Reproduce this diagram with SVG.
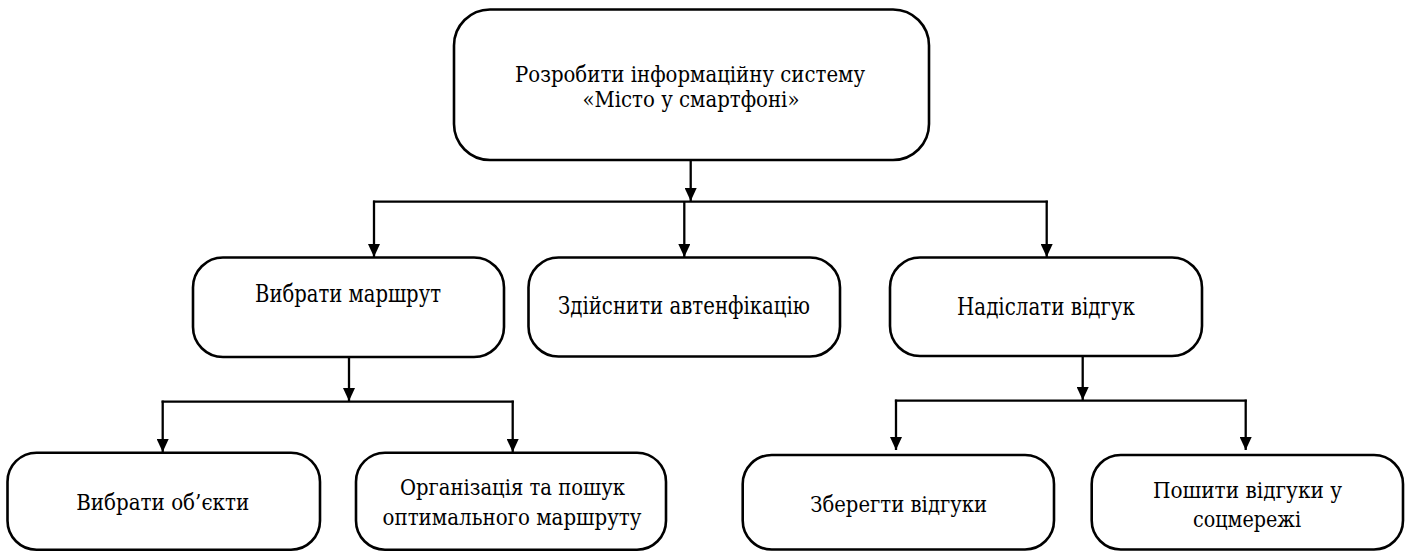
<svg xmlns="http://www.w3.org/2000/svg" width="1405" height="551" viewBox="0 0 1405 551">
  <style>
    .box { fill: #ffffff; stroke: #000000; stroke-width: 2.6; }
    .wire { fill: none; stroke: #000000; stroke-width: 2.3; }
    .lbl { font-family: "DejaVu Serif", "Liberation Serif", serif; font-size: 24px; fill: #000000; text-anchor: middle; }
    .sm { font-size: 23px; }
    .top { font-size: 21.5px; }
  </style>
  <defs>
    <marker id="down" markerUnits="userSpaceOnUse" markerWidth="12" markerHeight="13" refX="6" refY="13" orient="0" viewBox="0 0 12 13">
      <path d="M0,0 L12,0 L6,13 Z" fill="#000000"/>
    </marker>
  </defs>

  <rect width="1405" height="551" fill="#ffffff"/>

  <!-- connectors -->
  <g id="connectors">
    <line class="wire" x1="690.7" y1="160" x2="690.7" y2="201" marker-end="url(#down)"/>
    <line class="wire" x1="373" y1="201.7" x2="1047.8" y2="201.7"/>
    <line class="wire" x1="374" y1="200.6" x2="374" y2="257" marker-end="url(#down)"/>
    <line class="wire" x1="684.3" y1="201.7" x2="684.3" y2="257" marker-end="url(#down)"/>
    <line class="wire" x1="1046.7" y1="200.6" x2="1046.7" y2="257" marker-end="url(#down)"/>

    <line class="wire" x1="349" y1="357" x2="349" y2="401" marker-end="url(#down)"/>
    <line class="wire" x1="161.6" y1="401.7" x2="513.8" y2="401.7"/>
    <line class="wire" x1="162.7" y1="400.6" x2="162.7" y2="452" marker-end="url(#down)"/>
    <line class="wire" x1="512.7" y1="400.6" x2="512.7" y2="452" marker-end="url(#down)"/>

    <line class="wire" x1="1082.7" y1="356" x2="1082.7" y2="400" marker-end="url(#down)"/>
    <line class="wire" x1="894.9" y1="400.7" x2="1246.8" y2="400.7"/>
    <line class="wire" x1="896" y1="399.6" x2="896" y2="450" marker-end="url(#down)"/>
    <line class="wire" x1="1245.7" y1="399.6" x2="1245.7" y2="450" marker-end="url(#down)"/>
  </g>

  <!-- root goal -->
  <g id="node-root">
    <rect class="box" x="454" y="9.5" width="475" height="150.5" rx="36" ry="36"/>
    <text class="lbl top" x="690" y="81.5" textLength="350" lengthAdjust="spacingAndGlyphs">Розробити інформаційну систему</text>
    <text class="lbl top" x="691" y="106.5" textLength="217" lengthAdjust="spacingAndGlyphs">«Місто у смартфоні»</text>
  </g>

  <!-- second level -->
  <g id="node-route">
    <rect class="box" x="193" y="257.5" width="311" height="99.5" rx="30" ry="30"/>
    <text class="lbl" x="348" y="302" textLength="186" lengthAdjust="spacingAndGlyphs">Вибрати маршрут</text>
  </g>
  <g id="node-auth">
    <rect class="box" x="528.5" y="257.5" width="311.5" height="99" rx="30" ry="30"/>
    <text class="lbl" x="684" y="314" textLength="252" lengthAdjust="spacingAndGlyphs">Здійснити автенфікацію</text>
  </g>
  <g id="node-feedback">
    <rect class="box" x="890" y="257.5" width="312" height="98.5" rx="30" ry="30"/>
    <text class="lbl" x="1046" y="315" textLength="178" lengthAdjust="spacingAndGlyphs">Надіслати відгук</text>
  </g>

  <!-- third level -->
  <g id="node-objects">
    <rect class="box" x="7.5" y="452.7" width="312.5" height="97" rx="29" ry="29"/>
    <text class="lbl sm" x="162.7" y="510" textLength="173" lengthAdjust="spacingAndGlyphs">Вибрати об’єкти</text>
  </g>
  <g id="node-optimal">
    <rect class="box" x="356" y="452.7" width="310" height="97" rx="29" ry="29"/>
    <text class="lbl sm" x="512.5" y="495" textLength="225" lengthAdjust="spacingAndGlyphs">Організація та пошук</text>
    <text class="lbl sm" x="512" y="525" textLength="259" lengthAdjust="spacingAndGlyphs">оптимального маршруту</text>
  </g>
  <g id="node-save">
    <rect class="box" x="742.7" y="455" width="311.3" height="94.5" rx="29" ry="29"/>
    <text class="lbl sm" x="898.7" y="511.7" textLength="177" lengthAdjust="spacingAndGlyphs">Зберегти відгуки</text>
  </g>
  <g id="node-share">
    <rect class="box" x="1091.7" y="455" width="311.3" height="94.5" rx="29" ry="29"/>
    <text class="lbl sm" x="1247.5" y="498" textLength="189" lengthAdjust="spacingAndGlyphs">Пошити відгуки у</text>
    <text class="lbl sm" x="1247" y="526.7" textLength="108" lengthAdjust="spacingAndGlyphs">соцмережі</text>
  </g>
</svg>
